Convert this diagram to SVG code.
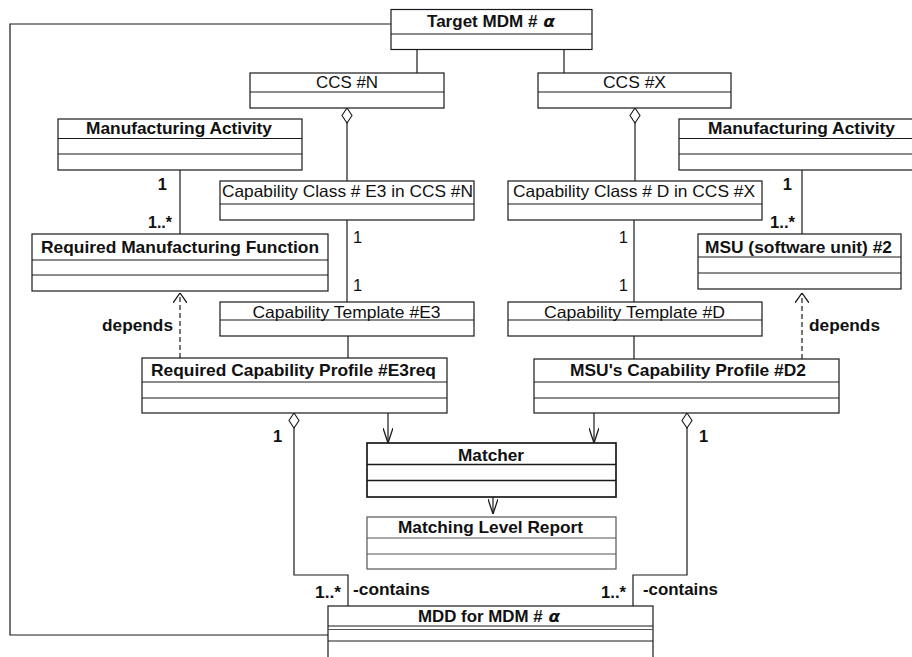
<svg xmlns="http://www.w3.org/2000/svg" width="912" height="657" viewBox="0 0 912 657">
<style>
.box{fill:#fff;stroke:#1a1a1a;stroke-width:1.2}
.div{stroke:#1a1a1a;stroke-width:1.2;fill:none}
.thick{stroke-width:1.7}
.grey{stroke:#555}
.b{font-family:"Liberation Sans",Arial,sans-serif;font-weight:bold;font-size:16.5px;fill:#111}
.r{font-family:"Liberation Sans",Arial,sans-serif;font-size:16.5px;fill:#111}
.c{text-anchor:middle}
.e{text-anchor:end}
.ln{stroke:#1a1a1a;stroke-width:1.2;fill:none}
.dash{stroke-dasharray:5,3}
</style>
<defs>
<marker id="open" viewBox="0 0 15 10" refX="15" refY="5" markerWidth="15" markerHeight="10" markerUnits="userSpaceOnUse" orient="auto">
<path d="M0,0 L15,5 L0,10" fill="none" stroke="#1a1a1a" stroke-width="1.3"/>
</marker>
<marker id="dep" viewBox="0 0 10 14" refX="10" refY="7" markerWidth="10" markerHeight="14" markerUnits="userSpaceOnUse" orient="auto">
<path d="M0,0 L10,7 L0,14" fill="none" stroke="#1a1a1a" stroke-width="1.3"/>
</marker>
<marker id="dia" viewBox="-1 -1 17 12" refX="0" refY="5" markerWidth="17" markerHeight="12" markerUnits="userSpaceOnUse" orient="auto">
<path d="M0,5 L7.5,0 L15,5 L7.5,10 Z" fill="#fff" stroke="#1a1a1a" stroke-width="1.1"/>
</marker>
</defs>
<rect width="912" height="657" fill="#fff"/>

<g id="connectors">
<polyline class="ln" points="391,24 10,24 10,635 328,635"/>
<line class="ln" x1="417" y1="50" x2="417" y2="73"/>
<line class="ln" x1="564" y1="50" x2="564" y2="73"/>
<line class="ln" x1="347" y1="108" x2="347" y2="181" marker-start="url(#dia)"/>
<line class="ln" x1="635" y1="108" x2="635" y2="181" marker-start="url(#dia)"/>
<line class="ln" x1="180" y1="170" x2="180" y2="234"/>
<line class="ln" x1="802" y1="170" x2="802" y2="234"/>
<line class="ln" x1="347" y1="220" x2="347" y2="302"/>
<line class="ln" x1="634" y1="220" x2="634" y2="302"/>
<line class="ln" x1="348" y1="336" x2="348" y2="358"/>
<line class="ln" x1="634" y1="336" x2="634" y2="359"/>
<line class="ln dash" x1="180" y1="358" x2="180" y2="293" marker-end="url(#dep)"/>
<line class="ln dash" x1="802" y1="359" x2="802" y2="293" marker-end="url(#dep)"/>
<line class="ln" x1="388" y1="413" x2="388" y2="443" marker-end="url(#open)"/>
<line class="ln" x1="594" y1="413" x2="594" y2="443" marker-end="url(#open)"/>
<line class="ln" x1="493" y1="497" x2="493" y2="514" marker-end="url(#open)"/>
<polyline class="ln" points="294,413 294,575 348,575 348,606" marker-start="url(#dia)"/>
<polyline class="ln" points="687,413 687,575 633,575 633,606" marker-start="url(#dia)"/>
<text class="b e" x="167" y="190">1</text>
<text class="b" x="148" y="228" textLength="24" lengthAdjust="spacingAndGlyphs">1..*</text>
<text class="b e" x="792" y="190">1</text>
<text class="b" x="770" y="228" textLength="25" lengthAdjust="spacingAndGlyphs">1..*</text>
<text class="r" x="353" y="243">1</text>
<text class="r" x="353" y="291">1</text>
<text class="r e" x="628" y="243">1</text>
<text class="r e" x="628" y="291">1</text>
<text class="b" x="102" y="331" textLength="71" lengthAdjust="spacingAndGlyphs">depends</text>
<text class="b" x="809" y="331" textLength="71" lengthAdjust="spacingAndGlyphs">depends</text>
<text class="b" x="273" y="442">1</text>
<text class="b" x="699" y="442">1</text>
<text class="b" x="315" y="598" textLength="26" lengthAdjust="spacingAndGlyphs">1..*</text>
<text class="b" x="353" y="595" textLength="77" lengthAdjust="spacingAndGlyphs">-contains</text>
<text class="b" x="601" y="598" textLength="25" lengthAdjust="spacingAndGlyphs">1..*</text>
<text class="b" x="643" y="595" textLength="75" lengthAdjust="spacingAndGlyphs">-contains</text>
</g>

<g id="target-mdm">
<rect class="box" x="391" y="9.5" width="201" height="40"/>
<line class="div" x1="391" y1="34" x2="592" y2="34"/>
<text class="b" x="427" y="27" textLength="128" lengthAdjust="spacingAndGlyphs">Target MDM #<tspan font-style="italic" font-family="'DejaVu Sans',sans-serif"> α</tspan></text>
</g>

<g id="ccs-n">
<rect class="box" x="250" y="73" width="194" height="35"/>
<line class="div" x1="250" y1="92" x2="444" y2="92"/>
<text class="r c" x="347" y="88" textLength="62" lengthAdjust="spacingAndGlyphs">CCS #N</text>
</g>

<g id="ccs-x">
<rect class="box" x="538" y="73" width="193" height="35"/>
<line class="div" x1="538" y1="92" x2="731" y2="92"/>
<text class="r c" x="634.5" y="88" textLength="63" lengthAdjust="spacingAndGlyphs">CCS #X</text>
</g>

<g id="manufacturing-activity-left">
<rect class="box" x="58" y="119" width="244" height="51"/>
<line class="div" x1="58" y1="138.5" x2="302" y2="138.5"/>
<line class="div" x1="58" y1="154" x2="302" y2="154"/>
<text class="b c" x="179" y="134" textLength="186" lengthAdjust="spacingAndGlyphs">Manufacturing Activity</text>
</g>

<g id="manufacturing-activity-right">
<rect class="box" x="679" y="119" width="240" height="51"/>
<line class="div" x1="679" y1="138.5" x2="912" y2="138.5"/>
<line class="div" x1="679" y1="154" x2="912" y2="154"/>
<text class="b c" x="801.5" y="134" textLength="187" lengthAdjust="spacingAndGlyphs">Manufacturing Activity</text>
</g>

<g id="capability-class-e3">
<rect class="box" x="220" y="181" width="254" height="39"/>
<line class="div" x1="220" y1="204" x2="474" y2="204"/>
<text class="r" x="222" y="197" textLength="251" lengthAdjust="spacingAndGlyphs">Capability Class # E3 in CCS #N</text>
</g>

<g id="capability-class-d">
<rect class="box" x="508" y="181" width="254" height="39"/>
<line class="div" x1="508" y1="204" x2="762" y2="204"/>
<text class="r" x="513" y="197" textLength="242" lengthAdjust="spacingAndGlyphs">Capability Class # D in CCS #X</text>
</g>

<g id="required-manufacturing-function">
<rect class="box" x="32" y="234" width="296" height="57"/>
<line class="div" x1="32" y1="260" x2="328" y2="260"/>
<line class="div" x1="32" y1="275" x2="328" y2="275"/>
<text class="b c" x="180" y="253" textLength="278" lengthAdjust="spacingAndGlyphs">Required Manufacturing Function</text>
</g>

<g id="msu-software-unit">
<rect class="box" x="698" y="234" width="203" height="55"/>
<line class="div" x1="698" y1="257" x2="901" y2="257"/>
<line class="div" x1="698" y1="273" x2="901" y2="273"/>
<text class="b c" x="798.5" y="253" textLength="187" lengthAdjust="spacingAndGlyphs">MSU (software unit) #2</text>
</g>

<g id="capability-template-e3">
<rect class="box" x="220" y="302" width="254" height="34"/>
<line class="div" x1="220" y1="320" x2="474" y2="320"/>
<text class="r c" x="346.5" y="318" textLength="188" lengthAdjust="spacingAndGlyphs">Capability Template #E3</text>
</g>

<g id="capability-template-d">
<rect class="box" x="508" y="302" width="254" height="34"/>
<line class="div" x1="508" y1="320" x2="762" y2="320"/>
<text class="r c" x="634.5" y="318" textLength="181" lengthAdjust="spacingAndGlyphs">Capability Template #D</text>
</g>

<g id="required-capability-profile">
<rect class="box" x="142" y="358" width="305" height="55"/>
<line class="div" x1="142" y1="382" x2="447" y2="382"/>
<line class="div" x1="142" y1="398" x2="447" y2="398"/>
<text class="b c" x="293.5" y="376" textLength="285" lengthAdjust="spacingAndGlyphs">Required Capability Profile #E3req</text>
</g>

<g id="msu-capability-profile">
<rect class="box" x="534" y="359" width="305" height="54"/>
<line class="div" x1="534" y1="382" x2="839" y2="382"/>
<line class="div" x1="534" y1="398" x2="839" y2="398"/>
<text class="b c" x="688" y="376" textLength="236" lengthAdjust="spacingAndGlyphs">MSU's Capability Profile #D2</text>
</g>

<g id="matcher">
<rect class="box thick" x="367" y="443" width="249" height="54"/>
<line class="div thick" x1="367" y1="464.5" x2="616" y2="464.5"/>
<line class="div thick" x1="367" y1="480.5" x2="616" y2="480.5"/>
<text class="b c" x="491" y="461" textLength="66" lengthAdjust="spacingAndGlyphs">Matcher</text>
</g>

<g id="matching-level-report">
<rect class="box grey" x="367" y="517" width="249" height="52"/>
<line class="div grey" x1="367" y1="538" x2="616" y2="538"/>
<line class="div grey" x1="367" y1="554" x2="616" y2="554"/>
<text class="b c" x="490.5" y="533" textLength="185" lengthAdjust="spacingAndGlyphs">Matching Level Report</text>
</g>

<g id="mdd-for-mdm">
<rect class="box" x="328" y="606" width="325" height="70"/>
<line class="div" x1="328" y1="626" x2="653" y2="626"/>
<line class="div grey" x1="328" y1="629.5" x2="653" y2="629.5" stroke-width="0.8"/>
<line class="div" x1="328" y1="641" x2="653" y2="641"/>
<text class="b c" x="489" y="622" textLength="142" lengthAdjust="spacingAndGlyphs">MDD for MDM #<tspan font-style="italic" font-family="'DejaVu Sans',sans-serif"> α</tspan></text>
</g>
</svg>
